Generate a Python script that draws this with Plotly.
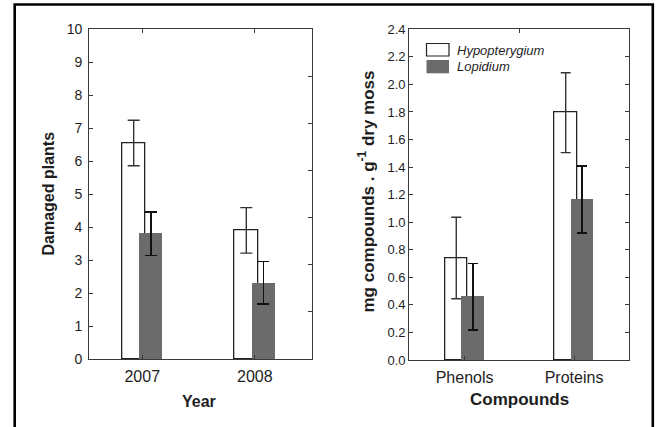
import plotly.graph_objects as go
import numpy as np

# ---------------- data ----------------
years = ["2007", "2008"]
damaged_hypo = [6.55, 3.90]
damaged_hypo_err = [0.69, 0.69]
damaged_lopi = [3.80, 2.31]
damaged_lopi_err = [0.66, 0.65]

compounds = ["Phenols", "Proteins"]
comp_hypo = [0.74, 1.795]
comp_hypo_err = [0.296, 0.29]
comp_lopi = [0.46, 1.166]
comp_lopi_err = [0.24, 0.243]

left_yticks = [0, 1, 2, 3, 4, 5, 6, 7, 8, 9, 10]
right_yticks = [0.0, 0.2, 0.4, 0.6, 0.8, 1.0, 1.2, 1.4, 1.6, 1.8, 2.0, 2.2, 2.4]

series_names = ["Hypopterygium", "Lopidium"]

# ---------------- style ----------------
W, H = 656, 427
FONT = "Arial, Liberation Sans, sans-serif"
TXT = "#1e1e1e"
FRAME = "#3a3a3a"
GREY = "#6b6b6b"
BW = 0.205
OFF = 0.076


def px(x):
    return x / W


def py(y):
    return 1 - y / H


fig = go.Figure()

xi_l = np.arange(len(years))
xi_r = np.arange(len(compounds))

fig.add_trace(go.Bar(
    x=xi_l - OFF, y=damaged_hypo, width=BW, xaxis="x", yaxis="y",
    marker=dict(color="white", line=dict(color="#222", width=1.3)),
    error_y=dict(type="data", array=damaged_hypo_err, color="#333", thickness=1.4, width=6),
    showlegend=False, name=series_names[0]))
fig.add_trace(go.Bar(
    x=xi_l + OFF, y=damaged_lopi, width=BW, xaxis="x", yaxis="y",
    marker=dict(color=GREY, line=dict(color=GREY, width=0)),
    error_y=dict(type="data", array=damaged_lopi_err, color="#111", thickness=1.8, width=6),
    showlegend=False, name=series_names[1]))

fig.add_trace(go.Bar(
    x=xi_r - OFF, y=comp_hypo, width=BW, xaxis="x2", yaxis="y2",
    marker=dict(color="white", line=dict(color="#222", width=1.3)),
    error_y=dict(type="data", array=comp_hypo_err, color="#333", thickness=1.4, width=5),
    showlegend=False, name=series_names[0]))
fig.add_trace(go.Bar(
    x=xi_r + OFF, y=comp_lopi, width=BW, xaxis="x2", yaxis="y2",
    marker=dict(color=GREY, line=dict(color=GREY, width=0)),
    error_y=dict(type="data", array=comp_lopi_err, color="#111", thickness=1.8, width=5),
    showlegend=False, name=series_names[1]))

# empty traces so the frame-only overlay axes get drawn
fig.add_trace(go.Scatter(x=[None], y=[None], xaxis="x", yaxis="y3", mode="markers",
                         showlegend=False, hoverinfo="skip"))
fig.add_trace(go.Scatter(x=[None], y=[None], xaxis="x4", yaxis="y2", mode="markers",
                         showlegend=False, hoverinfo="skip"))

line_only = dict(showline=True, linecolor=FRAME, linewidth=1.3, showgrid=False, zeroline=False,
                 ticks="inside", tickcolor=FRAME, tickwidth=1.2, ticklen=4, automargin=False)

left_dom_x = [px(89.3), px(312.3)]
right_dom_x = [px(409.3), px(629.3)]
left_dom_y = [py(359), py(29.3)]
right_dom_y = [py(360), py(29.3)]

fig.update_layout(
    width=W, height=H, margin=dict(l=0, r=0, t=0, b=0, pad=0, autoexpand=False),
    paper_bgcolor="white", plot_bgcolor="white",
    barmode="overlay", bargap=0, showlegend=False,
    xaxis=dict(**line_only, tickfont=dict(family=FONT, color=TXT, size=16),
               domain=left_dom_x, anchor="y", range=[-0.47, 1.51],
               tickvals=list(xi_l), ticktext=years, mirror="ticks", ticklabelstandoff=3),
    yaxis=dict(**line_only, tickfont=dict(family=FONT, color=TXT, size=14),
               domain=left_dom_y, anchor="x", range=[0, 10], tickvals=left_yticks,
               ticklabelstandoff=3),
    yaxis3=dict(**line_only, overlaying="y", side="right", anchor="x", range=[0, 7], dtick=1,
                showticklabels=False),
    xaxis2=dict(**line_only, tickfont=dict(family=FONT, color=TXT, size=16),
                domain=right_dom_x, anchor="y2", range=[-0.505, 1.505],
                tickvals=list(xi_r), ticktext=compounds, ticklabelstandoff=3),
    xaxis4=dict(**line_only, overlaying="x2", side="top", anchor="y2", range=[-0.505, 1.505],
                tickvals=[0.5], showticklabels=False),
    yaxis2=dict(**line_only, tickfont=dict(family=FONT, color=TXT, size=13),
                domain=right_dom_y, anchor="x2", range=[0, 2.4], tickvals=right_yticks,
                tickformat=".1f", mirror="ticks"),
)

# axis titles
ann = []
ann.append(dict(text="<b>Damaged plants</b>", x=px(48), y=py(193.5), textangle=-90,
                font=dict(family=FONT, size=16, color=TXT)))
ann.append(dict(text="<b>mg compounds . g<sup>-1</sup> dry moss</b>", x=px(367), y=py(191.5),
                textangle=-90, font=dict(family=FONT, size=17, color=TXT)))
ann.append(dict(text="<b>Year</b>", x=px(199), y=py(401.5), font=dict(family=FONT, size=16, color=TXT)))
ann.append(dict(text="<b>Compounds</b>", x=px(519), y=py(399), font=dict(family=FONT, size=17, color=TXT)))
# legend text
ann.append(dict(text="<i>" + series_names[0] + "</i>", x=px(455), y=py(50), xanchor="left",
                font=dict(family=FONT, size=13, color=TXT)))
ann.append(dict(text="<i>" + series_names[1] + "</i>", x=px(455), y=py(66.7), xanchor="left",
                font=dict(family=FONT, size=13, color=TXT)))
for a in ann:
    a.update(xref="paper", yref="paper", showarrow=False)
    a.setdefault("xanchor", "center")
    a.setdefault("yanchor", "middle")
fig.update_layout(annotations=ann)

shapes = [
    # outer frame
    dict(type="rect", xref="paper", yref="paper", x0=px(14.7), x1=px(652.8), y0=py(440), y1=py(4.5),
         line=dict(color="black", width=2.6), fillcolor="rgba(0,0,0,0)", layer="above"),
    # legend swatches
    dict(type="rect", xref="paper", yref="paper", x0=px(426.5), x1=px(449), y0=py(56), y1=py(43.5),
         line=dict(color="#222", width=1.2), fillcolor="white"),
    dict(type="rect", xref="paper", yref="paper", x0=px(426.5), x1=px(449), y0=py(73.3), y1=py(60),
         line=dict(color=GREY, width=0), fillcolor=GREY),
]
fig.update_layout(shapes=shapes)

post = (
    "document.documentElement.style.margin='0';"
    "document.documentElement.style.padding='0';"
    "document.documentElement.style.overflow='hidden';"
    "document.body.style.margin='0';document.body.style.padding='0';"
    "document.body.style.overflow='hidden';"
    "var gd=document.getElementById('{plot_id}');"
    "gd.style.position='fixed';gd.style.left='0px';gd.style.top='0px';"
)
fig.write_html("out.html", config={"displayModeBar": False, "responsive": False},
               post_script=post)
